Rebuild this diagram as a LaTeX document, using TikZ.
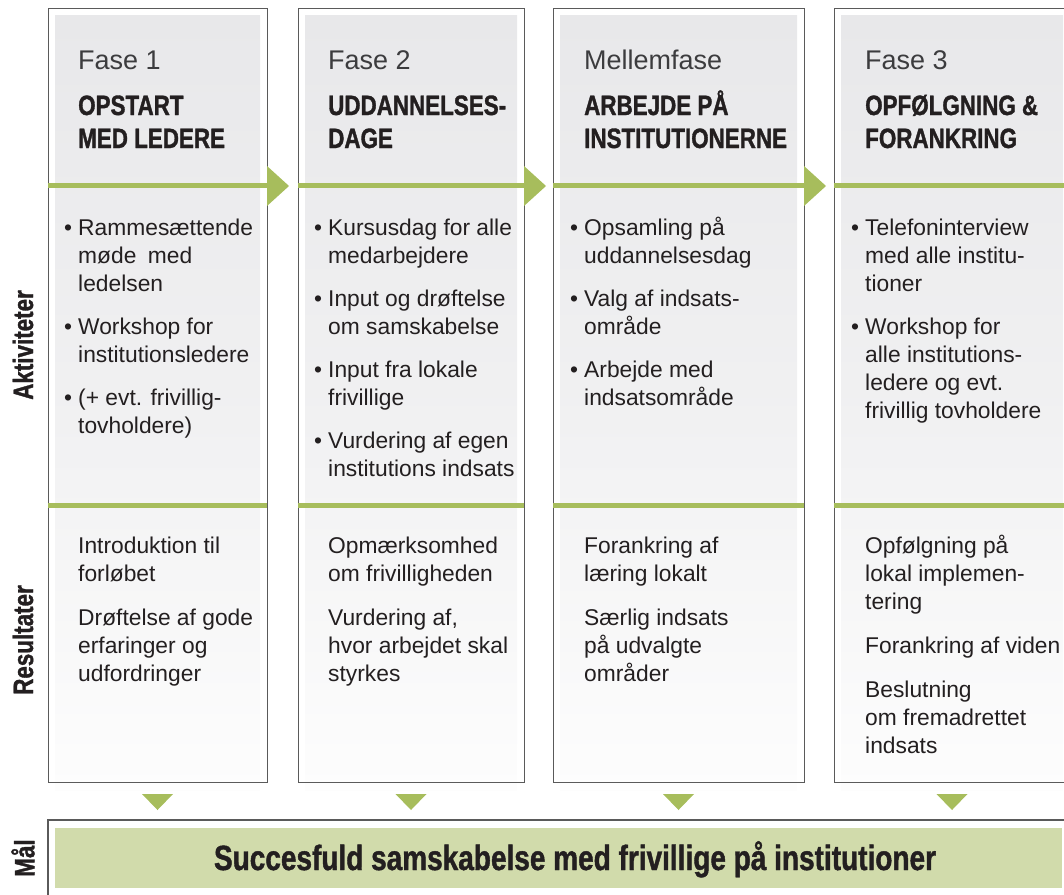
\documentclass[tikz,border=0pt]{standalone}
\usepackage{fontspec}
\setmainfont{Liberation Sans}
\newfontfamily\condfont[FakeStretch=0.8,FakeBold=1.2]{Liberation Sans}
\definecolor{ink}{HTML}{231F20}
\definecolor{phase}{HTML}{3C3C3E}
\definecolor{leaf}{HTML}{A7BD5C}
\definecolor{goalfill}{HTML}{D1DBAB}
\definecolor{filltop}{HTML}{E8E8EA}
\definecolor{fillbot}{HTML}{FDFDFD}
\definecolor{edge}{HTML}{5A5A5A}
\newcommand\txtline[4]{\node[txt] (#1) at (#2,#3) {#4};}
\newcommand\bulline[4]{\node[bul] (#1b) at (#2-14,#3) {•};\node[txt] (#1) at (#2,#3) {#4};}
\begin{document}
\begin{tikzpicture}[x=1pt,y=-1pt,
  txt/.style={anchor=base west,inner sep=0pt,text=ink,font=\fontsize{22.8}{28}\selectfont},
  bul/.style={anchor=base west,inner sep=0pt,text=ink,font=\fontsize{22.8}{28}\selectfont},
  phasetxt/.style={anchor=base west,inner sep=0pt,text=phase,font=\fontsize{27}{32}\selectfont},
  title/.style={anchor=base west,inner sep=0pt,text=ink,font=\condfont\bfseries\fontsize{28}{33}\selectfont},
  side/.style={rotate=90,inner sep=0pt,text=ink,font=\condfont\bfseries\fontsize{28}{32}\selectfont},
  colbox/.style={draw=edge,line width=1.1pt,inner sep=0pt},
  greenbar/.style={fill=leaf},
]
\useasboundingbox (0,0) rectangle (1064,894);
% column fills, borders, bars
\foreach \i/\l/\r in {1/48/267,2/298/524,3/553/804,4/834/1070}{
  \shade[top color=filltop,bottom color=fillbot,middle color=filltop!60!fillbot] (\l+7,15) rectangle (\r-7,790);
  \node[colbox,minimum width={\r-\l},minimum height=774pt,anchor=north west] (col\i) at (\l,8) {};
  \fill[greenbar] (\l,183) rectangle (\r,188);
  \fill[greenbar] (\l,503) rectangle (\r,508);
  \fill[greenbar] ({(\l+\r)/2-15.5},794) -- ({(\l+\r)/2+15.5},794) -- ({(\l+\r)/2},810) -- cycle;
}
\foreach \r in {267,524,804}{
  \fill[greenbar] (\r,166) -- (\r+22,186) -- (\r,206) -- cycle;
}
% goal box
\fill[goalfill] (55,828) rectangle (1062,888);
\draw[edge,line width=1.1pt] (48,896) -- (48,820) -- (1066,820);
\node[anchor=base,inner sep=0pt,text=ink,font=\condfont\bfseries\fontsize{35}{40}\selectfont] (goal) at (575,870) {Succesfuld samskabelse med frivillige på institutioner};
% side labels
\node[side] (lbla) at (23,345) {Aktiviteter};
\node[side] (lblr) at (23,640) {Resultater};
\node[side] (lblm) at (23,858) {Mål};
% headers
\node[phasetxt] (h1) at (78,69) {Fase 1};
\node[title] (t1a) at (78,115) {OPSTART};
\node[title] (t1b) at (78,148) {MED LEDERE};
\node[phasetxt] (h2) at (328,69) {Fase 2};
\node[title] (t2a) at (328,115) {UDDANNELSES-};
\node[title] (t2b) at (328,148) {DAGE};
\node[phasetxt] (h3) at (584,69) {Mellemfase};
\node[title] (t3a) at (584,115) {ARBEJDE PÅ};
\node[title] (t3b) at (584,148) {INSTITUTIONERNE};
\node[phasetxt] (h4) at (865,69) {Fase 3};
\node[title] (t4a) at (865,115) {OPFØLGNING \&};
\node[title] (t4b) at (865,148) {FORANKRING};
% column 1 activities
\bulline{a11}{78}{235}{Rammesættende}
\txtline{a12}{78}{263}{møde\enspace med}
\txtline{a13}{78}{291}{ledelsen}
\bulline{a14}{78}{334}{Workshop for}
\txtline{a15}{78}{362}{institutionsledere}
\bulline{a16}{78}{405}{(+ evt. frivillig-}
\txtline{a17}{78}{433}{tovholdere)}
% column 2 activities
\bulline{a21}{328}{235}{Kursusdag for alle}
\txtline{a22}{328}{263}{medarbejdere}
\bulline{a23}{328}{306}{Input og drøftelse}
\txtline{a24}{328}{334}{om samskabelse}
\bulline{a25}{328}{377}{Input fra lokale}
\txtline{a26}{328}{405}{frivillige}
\bulline{a27}{328}{448}{Vurdering af egen}
\txtline{a28}{328}{476}{institutions indsats}
% column 3 activities
\bulline{a31}{584}{235}{Opsamling på}
\txtline{a32}{584}{263}{uddannelsesdag}
\bulline{a33}{584}{306}{Valg af indsats-}
\txtline{a34}{584}{334}{område}
\bulline{a35}{584}{377}{Arbejde med}
\txtline{a36}{584}{405}{indsatsområde}
% column 4 activities
\bulline{a41}{865}{235}{Telefoninterview}
\txtline{a42}{865}{263}{med alle institu-}
\txtline{a43}{865}{291}{tioner}
\bulline{a44}{865}{334}{Workshop for}
\txtline{a45}{865}{362}{alle institutions-}
\txtline{a46}{865}{390}{ledere og evt.}
\txtline{a47}{865}{418}{frivillig tovholdere}
% results
\txtline{r11}{78}{553}{Introduktion til}
\txtline{r12}{78}{581}{forløbet}
\txtline{r13}{78}{625}{Drøftelse af gode}
\txtline{r14}{78}{653}{erfaringer og}
\txtline{r15}{78}{681}{udfordringer}
\txtline{r21}{328}{553}{Opmærksomhed}
\txtline{r22}{328}{581}{om frivilligheden}
\txtline{r23}{328}{625}{Vurdering af,}
\txtline{r24}{328}{653}{hvor arbejdet skal}
\txtline{r25}{328}{681}{styrkes}
\txtline{r31}{584}{553}{Forankring af}
\txtline{r32}{584}{581}{læring lokalt}
\txtline{r33}{584}{625}{Særlig indsats}
\txtline{r34}{584}{653}{på udvalgte}
\txtline{r35}{584}{681}{områder}
\txtline{r41}{865}{553}{Opfølgning på}
\txtline{r42}{865}{581}{lokal implemen-}
\txtline{r43}{865}{609}{tering}
\txtline{r44}{865}{653}{Forankring af viden}
\txtline{r45}{865}{697}{Beslutning}
\txtline{r46}{865}{725}{om fremadrettet}
\txtline{r47}{865}{753}{indsats}
\end{tikzpicture}
\end{document}
